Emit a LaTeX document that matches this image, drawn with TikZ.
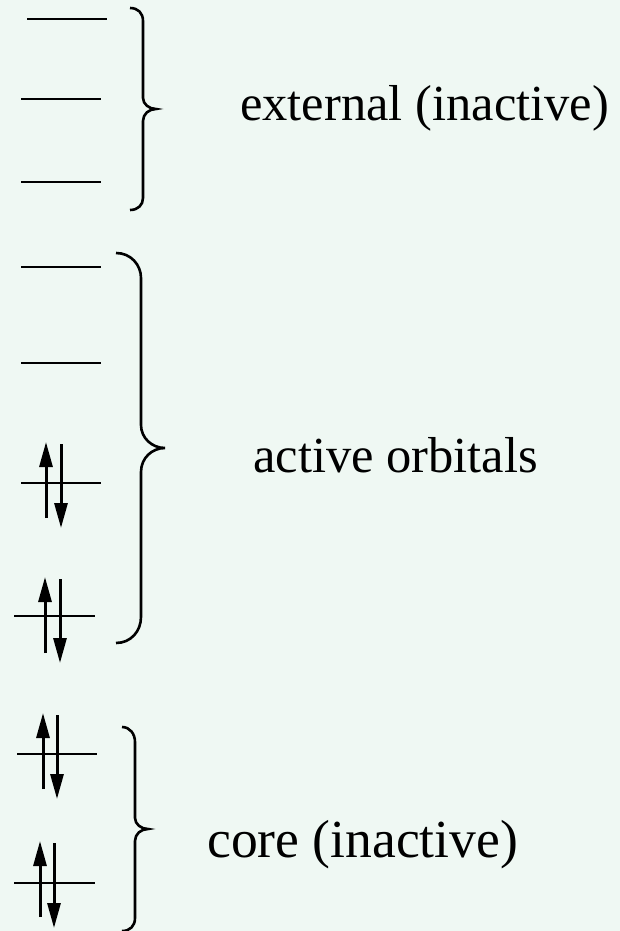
\documentclass[tikz,border=0pt]{standalone}
\usepackage{fontspec}
\setmainfont{Liberation Serif}
\usetikzlibrary{arrows.meta}
\definecolor{bgmint}{RGB}{239,248,243}
\begin{document}
\begin{tikzpicture}[x=1pt,y=-1pt,
    orbline/.style={black,line width=2.6pt},
    spinarrow/.style={black,line width=3pt,-{Triangle[length=25pt,width=13pt]}},
    bracecurve/.style={black,line width=2.6pt},
    label/.style={anchor=base west,inner sep=0pt,font=\fontsize{50.5}{60}\selectfont}]
    \fill[bgmint] (0,0) rectangle (620,931);
    \useasboundingbox (0,0) rectangle (620,931);

    % external orbitals
    \draw[orbline] (27,19) -- (107,19);
    \draw[orbline] (21,99) -- (101,99);
    \draw[orbline] (21,182) -- (101,182);
    % active orbitals
    \draw[orbline] (21,267) -- (101,267);
    \draw[orbline] (21,363) -- (101,363);
    \draw[orbline] (21,483) -- (101,483);
    \draw[orbline] (14,616) -- (95,616);
    % core orbitals
    \draw[orbline] (17,754) -- (97,754);
    \draw[orbline] (14,883) -- (95,883);

    % electron pairs
    \draw[spinarrow] (46,518) -- (46,442);
    \draw[spinarrow] (61,444) -- (61,528);
    \draw[spinarrow] (45,653) -- (45,577);
    \draw[spinarrow] (60,579) -- (60,663);
    \draw[spinarrow] (43,789) -- (43,713);
    \draw[spinarrow] (57,715) -- (57,799);
    \draw[spinarrow] (40,917) -- (40,841);
    \draw[spinarrow] (54,843) -- (54,928);

    % braces
    \draw[bracecurve] (130,8) .. controls (138,8) and (143,13) .. (143,21) -- (143,98)
        .. controls (143,104) and (149,109) .. (156,109)
        .. controls (149,109) and (143,114) .. (143,121) -- (143,198)
        .. controls (143,205) and (138,210) .. (130,210);
    \draw[bracecurve] (116,253) .. controls (131,253) and (141,265) .. (141,278) -- (141,425)
        .. controls (141,438) and (152,448) .. (165,448)
        .. controls (152,448) and (141,458) .. (141,472) -- (141,617)
        .. controls (141,631) and (131,643) .. (116,643);
    \draw[bracecurve] (122,727) .. controls (130,727) and (135,734) .. (135,742) -- (135,818)
        .. controls (135,824) and (141,829) .. (148,829)
        .. controls (141,829) and (135,834) .. (135,841) -- (135,918)
        .. controls (135,926) and (130,931) .. (122,931);

    \node[label] (ext) at (240,121) {external (inactive)};
    \node[label] (act) at (253,472) {active orbitals};
    \node[label,font=\fontsize{53.6}{60}\selectfont] (core) at (207,857) {core (inactive)};
\end{tikzpicture}
\end{document}
